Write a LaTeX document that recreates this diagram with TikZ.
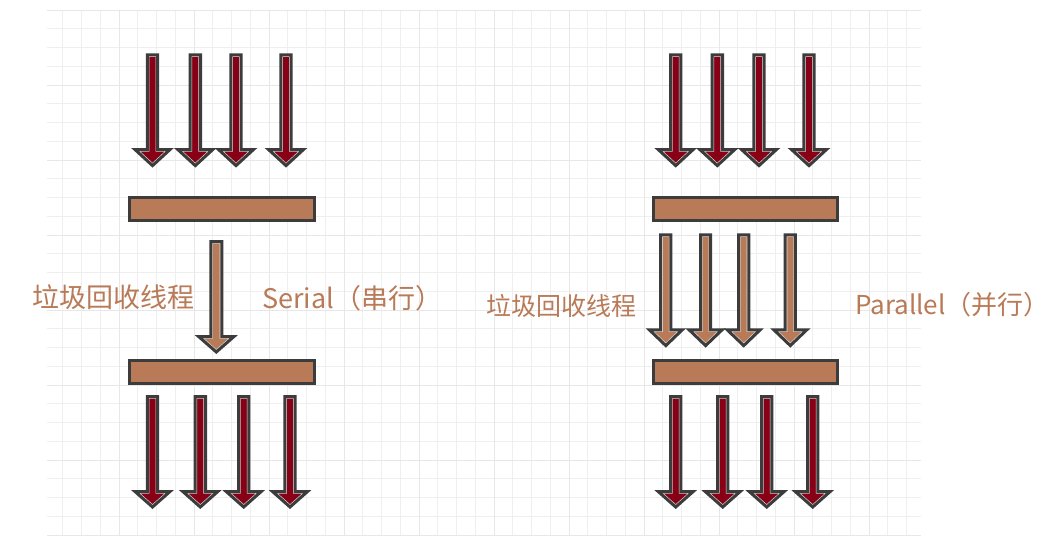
\documentclass[tikz,border=0pt]{standalone}
\usepackage{fontspec}
\setmainfont{Noto Sans CJK SC}
\definecolor{darkred}{HTML}{880015}
\definecolor{brownfill}{HTML}{B97A57}
\definecolor{edgegray}{HTML}{3C3C3C}
\definecolor{gridminor}{HTML}{EFEFEF}
\definecolor{gridmajor}{HTML}{E7E7E7}
\definecolor{innerline}{HTML}{DCDCDC}
\tikzset{
  barbox/.style={draw=edgegray, fill=brownfill, line width=3pt, minimum height=23.6pt, minimum width=184.7pt, inner sep=0pt, rectangle},
  label/.style={text=brownfill, inner sep=0pt, anchor=west},
}
% #1 x, #2 top, #3 head start, #4 tip, #5 shaft half width, #6 head half width, #7 fill
\newcommand\BArrow[7]{%
  \def\arrpath{({#1-#5},#2) -- ({#1+#5},#2) -- ({#1+#5},#3) -- ({#1+#6},#3) -- (#1,#4) -- ({#1-#6},#3) -- ({#1-#5},#3) -- cycle}%
  \fill[#7] \arrpath;
  \begin{scope}
    \clip \arrpath;
    \draw[innerline, line width=4.2pt] \arrpath;
  \end{scope}
  \draw[edgegray, line width=3pt, line join=miter] \arrpath;
}
\begin{document}
\begin{tikzpicture}[x=1pt, y=-1pt]
\useasboundingbox (0,0) rectangle (1049,536);
\fill[white] (0,0) rectangle (1049,536);
% grid
\begin{scope}
  \clip (47,10) rectangle (921,535.6);
  \foreach \i in {1,...,46} \draw[gridminor, line width=1pt] ({44+18.75*\i},10) -- ({44+18.75*\i},536);
  \foreach \j in {0,...,28} \draw[gridminor, line width=1pt] (47,{10+18.75*\j}) -- (921,{10+18.75*\j});
  \foreach \i in {1,...,11} \draw[gridmajor, line width=1pt] ({44+75*\i},10) -- ({44+75*\i},536);
  \foreach \j in {0,...,7} \draw[gridmajor, line width=1pt] (47,{10+75*\j}) -- (921,{10+75*\j});
\end{scope}

% bars
\node[barbox] (barTL) at (222.2,209) {};
\node[barbox] (barBL) at (222.2,372) {};
\node[barbox] (barTR) at (745.5,209) {};
\node[barbox] (barBR) at (745.5,372) {};

% top arrows (left)
\foreach \x in {152.5,195.3,236,286} {\BArrow{\x}{54.8}{149.5}{165.6}{5.2}{17.5}{darkred}}
% top arrows (right)
\foreach \x in {675.7,717.3,759,809} {\BArrow{\x}{54.8}{149.5}{165.6}{5.2}{17.5}{darkred}}
% bottom arrows (left)
\foreach \x in {152.5,200.3,243.7,290} {\BArrow{\x}{396.5}{491.5}{507}{5.2}{17.5}{darkred}}
% bottom arrows (right)
\foreach \x in {675.7,722.7,766.7,812.7} {\BArrow{\x}{396.5}{491.5}{507}{5.2}{17.5}{darkred}}
% serial GC thread
\BArrow{216.3}{241.5}{336.5}{352}{5.5}{17.7}{brownfill}
% parallel GC threads
\foreach \x in {665.8,705.6,743.7,790.3} {\BArrow{\x}{234.8}{329.8}{345.6}{5.1}{16.5}{brownfill}}

% labels
\node[label, font=\fontsize{27}{30}\selectfont] (gcL) at (32,297) {垃圾回收线程};
\node[label, font=\fontsize{27}{30}\selectfont] (serial) at (262,298) {Serial（串行）};
\node[label, font=\fontsize{25}{30}\selectfont] (gcR) at (486,306) {垃圾回收线程};
\node[label, font=\fontsize{26}{30}\selectfont] (parallel) at (855,305) {Parallel（并行）};
\end{tikzpicture}
\end{document}
